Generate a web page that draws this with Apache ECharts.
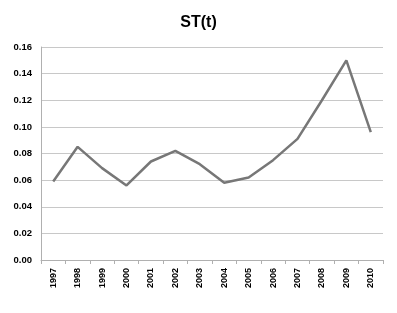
<!DOCTYPE html>
<html>
<head>
<meta charset="utf-8">
<style>
	html, body { margin: 0; padding: 0; background: #fff; }
	#main { width: 397px; height: 313px; }
</style>
<script src="https://cdn.jsdelivr.net/npm/echarts@6/dist/echarts.min.js"></script>
</head>
<body>
<div id="main"></div>
<script>
// 年份
var years = ['1997', '1998', '1999', '2000', '2001', '2002', '2003', '2004', '2005', '2006', '2007', '2008', '2009', '2010'];
// ST(t) 数值
var stValues = [0.059, 0.085, 0.069, 0.056, 0.074, 0.082, 0.072, 0.058, 0.062, 0.075, 0.091, 0.120, 0.150, 0.096];
// y轴刻度
var yMin = 0, yMax = 0.16, yStep = 0.02;

(function() {
	var myChart = echarts.init(document.getElementById('main'));
	var option = {
		animation: false,
		title: {
			text: 'ST(t)',
			left: 'center',
			top: 10,
			textStyle: {
				fontFamily: 'Liberation Sans',
				fontSize: 16,
				fontWeight: 'bold',
				color: '#000'
			}
		},
		grid: {
			left: 41,
			right: 14,
			top: 47,
			bottom: 53
		},
		xAxis: {
			type: 'category',
			data: years,
			boundaryGap: true,
			axisLine: {
				lineStyle: { color: '#b0b0b0', width: 1 }
			},
			axisTick: {
				show: true,
				length: 4,
				lineStyle: { color: '#b0b0b0' }
			},
			axisLabel: {
				interval: 0,
				rotate: 90,
				margin: 8,
				fontFamily: 'Liberation Sans',
				fontSize: 9,
				fontWeight: 'bold',
				color: '#000'
			}
		},
		yAxis: {
			type: 'value',
			min: yMin,
			max: yMax,
			interval: yStep,
			axisLine: {
				show: true,
				lineStyle: { color: '#b0b0b0', width: 1 }
			},
			axisTick: { show: false },
			splitLine: {
				lineStyle: { color: '#c8c8c8', width: 1 }
			},
			axisLabel: {
				margin: 9,
				fontFamily: 'Liberation Sans',
				fontSize: 9.5,
				fontWeight: 'bold',
				color: '#000',
				formatter: function(v) { return v.toFixed(2); }
			}
		},
		series: [{
			name: 'ST(t)',
			type: 'line',
			data: stValues,
			symbol: 'none',
			lineStyle: { color: '#777777', width: 2.5 }
		}]
	};
	myChart.setOption(option);
})();
</script>
</body>
</html>
